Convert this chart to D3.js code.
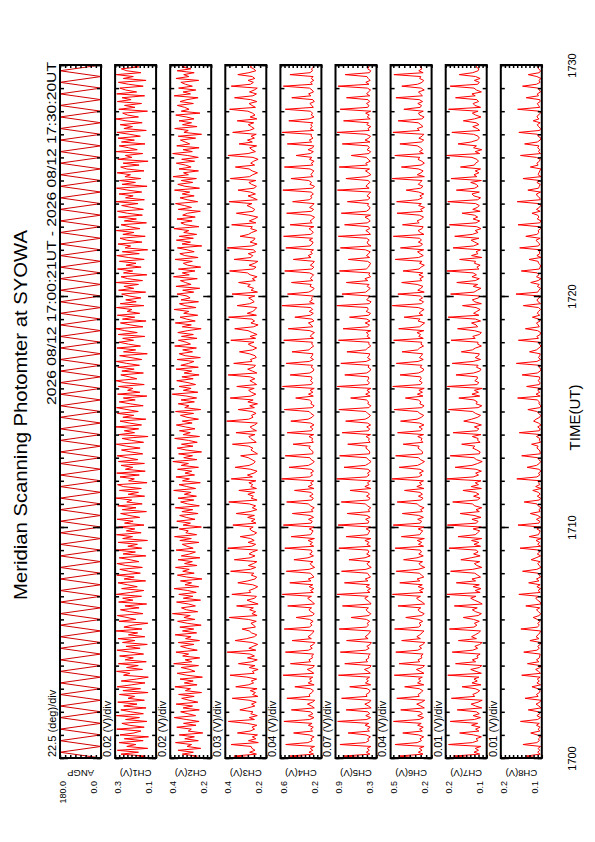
<!DOCTYPE html>
<html>
<head>
<meta charset="utf-8">
<script src="https://cdn.jsdelivr.net/npm/d3@7"></script>
<style>
  body { margin: 0; background: #fff; }
  text { font-family: "Liberation Sans", Arial, Helvetica, sans-serif; fill: #000; }
</style>
</head>
<body>
<svg id="chart" width="595" height="842"></svg>
<script>
// Meridian scanning photometer plot, drawn rotated (time runs bottom -> top)

var titleText = "Meridian Scanning Photomter at SYOWA";
var periodText = "2026 08/12 17:00:21UT - 2026 08/12 17:30:20UT";
var timeAxisTitle = "TIME(UT)";

var panelNames = ["ANGP", "CH1(V)", "CH2(V)", "CH3(V)", "CH4(V)", "CH5(V)", "CH6(V)", "CH7(V)", "CH8(V)"];
var valueMin = [0, 0.1, 0.2, 0.2, 0.2, 0.3, 0.2, 0.1, 0.1];
var valueMax = [180, 0.3, 0.4, 0.4, 0.6, 0.9, 0.5, 0.2, 0.2];
var valueDiv = [22.5, 0.02, 0.02, 0.03, 0.04, 0.07, 0.04, 0.01, 0.01];
var minLabels = ["0.0", "0.1", "0.2", "0.2", "0.2", "0.3", "0.2", "0.1", "0.1"];
var maxLabels = ["180.0", "0.3", "0.4", "0.4", "0.6", "0.9", "0.5", "0.2", "0.2"];
var divLabels = ["22.5 (deg)/div", "0.02 (V)/div", "0.02 (V)/div", "0.03 (V)/div", "0.04 (V)/div",
                 "0.07 (V)/div", "0.04 (V)/div", "0.01 (V)/div", "0.01 (V)/div"];

// time axis (seconds after 17:00)
var timeStart = 0, timeEnd = 1800;
var timeTickSeconds = [0, 600, 1200, 1800];
var timeTickLabels = ["1700", "1710", "1720", "1730"];

// scan angle turning points (deg), one every 15 s
var angp = [
  0,180,0,180,0,180,0,180,0,180,0,180,0,180,0,180,0,180,0,180,
  0,180,0,180,0,180,0,180,0,180,0,180,0,180,0,180,0,180,0,180,
  0,180,0,180,0,180,0,180,0,180,0,180,0,180,0,180,0,180,0,180,
  0,180,0,180,0,180,0,180,0,180,0,180,0,180,0,180,0,180,0,180,
  0,180,0,180,0,180,0,180,0,180,0,180,0,180,0,180,0,180,0,180,
  0,180,0,180,0,180,0,180,0,180,0,180,0,180,0,180,0,180,0,180,
  0
];

// channel samples in mV, one every 5 s
var ch1 = [
  218,152,271,186,289,141,243,199,281,163,255,137,276,208,174,292,158,231,
  267,145,249,181,294,162,224,272,149,258,193,287,157,237,205,279,139,262,
  176,290,221,154,270,196,138,259,228,293,166,244,187,284,148,251,211,278,
  161,226,291,178,247,143,264,203,286,155,235,190,295,169,257,216,140,281,
  199,242,289,164,229,274,183,252,146,283,213,263,171,294,225,160,268,192,
  240,286,151,256,207,292,177,233,277,167,248,291,184,227,280,150,261,201,
  296,170,238,191,285,142,263,215,293,173,245,204,282,159,254,212,290,180,
  232,273,147,265,198,287,168,243,219,295,156,236,186,279,172,260,288,144,
  234,206,276,182,292,153,250,214,271,157,284,189,241,290,165,223,269,178,
  245,294,161,220,266,139,283,205,255,185,297,171,230,276,150,262,209,289,
  187,242,293,163,227,280,202,260,145,288,179,239,213,284,158,253,296,194,
  231,272,162,267,207,287,181,244,294,170,222,278,143,259,200,291,176,235,
  281,210,263,155,285,192,253,297,164,226,274,149,264,204,289,180,241,218,
  293,160,275,197,248,174,232,268,151,283,209,257,186,295,166,238,271,145,
  259,214,288,173,246,198,279,158,236,292,182,265,141,251,224,286,169,243,
  276,153,262,208,294,179,230,271,147,255,196,284,167,240,289,162,219,268,
  188,297,157,249,212,281,170,237,293,144,266,201,278,175,252,225,290,159,
  244,273,183,261,139,287,218,250,165,295,192,234,280,154,269,206,286,177,
  228,291,148,257,215,275,168,247,296,186,239,263,142,282,203,254,171,289,
  222,266,156,292,195,248,277,163,235,284,149,260,211,294,174,243,270,185,
  229
];
var ch2 = [
  305,268,341,287,362,251,318,296,374,263,329,282,356,241,312,297,368,274,
  335,259,322,380,276,314,349,258,337,291,371,265,308,344,283,359,247,326,
  301,377,269,331,288,352,243,319,366,279,304,347,262,383,295,327,256,339,
  310,372,268,316,349,284,361,257,325,298,376,271,340,285,353,249,317,364,
  280,333,302,389,266,321,345,277,310,369,252,336,289,358,273,314,381,261,
  328,296,350,245,319,365,283,339,307,374,269,330,292,362,255,346,305,277,
  371,288,318,341,260,353,297,379,271,324,312,356,248,337,301,368,279,322,
  354,264,343,290,375,258,316,349,285,362,272,331,298,383,276,319,357,253,
  340,306,372,281,328,295,364,262,346,311,387,270,334,291,359,247,323,366,
  289,345,268,311,378,257,337,302,355,279,326,370,293,341,262,318,350,286,
  374,251,329,308,361,282,347,271,319,390,265,336,298,357,276,313,368,288,
  343,259,332,295,371,263,348,310,284,366,253,327,356,291,339,272,378,301,
  322,360,269,345,287,363,315,249,341,297,375,278,320,352,266,334,309,381,
  274,328,355,262,347,303,318,367,285,339,256,372,298,326,350,268,384,307,
  341,279,360,251,315,336,292,376,264,329,353,283,318,365,246,342,301,370,
  287,356,271,334,309,382,260,325,348,293,367,278,339,315,253,361,296,331,
  374,266,318,352,283,341,305,379,257,328,363,290,346,272,386,311,335,262,
  357,298,325,370,281,344,263,316,388,292,337,259,368,305,327,350,276,361,
  247,333,312,378,269,340,296,357,284,321,373,255,346,308,329,365,287,352,
  318,264,381,301,337,275,359,292,326,348,261,372,309,334,283,366,299,343,
  312
];
var ch3 = [
  262,358,248,281,255,270,274,372,239,287,251,268,243,341,279,257,270,246,
  293,385,258,283,244,276,265,329,291,256,272,249,284,366,241,267,253,278,
  245,349,288,262,273,247,296,377,259,268,240,283,255,336,271,244,292,258,
  279,391,251,285,264,242,269,352,297,258,246,272,283,318,253,261,275,249,
  288,381,245,270,252,281,263,345,240,269,294,257,248,368,276,284,259,242,
  266,339,290,255,247,273,261,374,278,252,287,263,246,356,279,255,284,268,
  243,388,271,252,289,259,276,327,262,247,270,281,264,363,250,273,255,291,
  258,347,279,246,268,252,283,383,245,274,263,290,257,334,248,276,266,285,
  251,371,268,292,260,245,277,352,284,262,254,270,288,325,243,259,275,266,
  287,365,249,262,276,285,255,348,248,267,279,257,244,393,286,265,272,250,
  269,337,258,281,243,290,264,376,275,251,273,286,259,344,247,262,280,256,
  278,386,246,268,291,261,253,359,270,277,249,255,283,331,266,247,271,288,
  260,373,252,279,245,268,289,354,262,240,275,257,271,384,248,293,266,254,
  247,342,281,259,270,286,256,367,243,274,262,291,278,335,254,268,245,279,
  292,379,263,250,284,257,241,357,275,266,288,252,263,390,270,245,279,261,
  255,328,287,271,246,276,268,369,251,283,259,242,286,346,264,257,273,294,
  270,382,244,265,289,253,278,338,260,248,272,285,251,375,282,266,243,269,
  284,351,257,276,262,240,265,387,289,253,270,281,247,333,268,292,258,274,
  249,364,283,259,273,288,261,342,246,279,255,267,290,379,253,270,284,246,
  276,355,265,248,282,259,244,371,277,263,289,256,268,339,285,251,262,279,
  263
];
var ch4 = [
  298,512,276,321,284,309,267,548,332,289,303,271,318,471,286,305,279,327,
  291,566,314,272,326,283,308,493,269,297,336,287,265,537,312,319,292,278,
  307,459,271,329,295,316,284,574,274,301,338,283,269,502,306,322,287,294,
  276,551,325,289,311,278,264,486,298,331,303,286,272,563,317,293,308,281,
  315,447,288,270,302,322,296,529,268,285,311,334,297,581,279,306,274,319,
  284,508,301,328,273,289,307,542,320,266,295,309,282,468,331,277,314,290,
  299,557,275,312,287,330,268,495,304,293,281,318,271,571,300,289,326,276,
  311,483,283,297,270,308,325,539,292,279,314,283,301,462,272,330,288,305,
  274,588,317,286,305,276,301,516,327,290,269,299,313,553,285,281,298,322,
  308,476,279,293,286,321,275,534,297,284,310,272,305,498,329,291,274,302,
  320,562,288,271,303,294,317,451,279,326,283,310,270,579,298,285,307,292,
  296,505,313,280,274,299,286,544,318,277,306,290,282,487,321,303,275,294,
  288,568,276,309,295,268,312,523,284,300,327,273,291,459,306,279,318,285,
  303,585,270,316,289,297,278,531,325,286,271,311,299,492,283,307,294,276,
  315,558,292,274,308,283,269,474,301,329,288,305,277,547,312,290,281,318,
  286,569,304,279,296,321,273,505,290,310,284,267,309,539,297,276,315,288,
  272,481,319,293,305,278,300,576,285,268,312,296,324,497,281,303,289,274,
  310,561,283,298,271,316,292,446,307,279,330,285,275,533,294,318,282,301,
  297,583,276,311,289,304,283,518,320,272,298,287,306,552,279,293,313,270,
  284,489,302,325,277,291,316,571,288,306,274,299,281,507,311,287,296,276,
  293
];
var ch5 = [
  421,782,396,448,405,437,382,835,462,411,429,389,452,716,403,433,392,467,
  414,868,441,386,457,399,426,745,378,418,471,402,383,811,439,451,408,393,
  436,692,385,462,419,447,401,857,390,425,476,398,380,764,431,455,411,420,
  391,829,458,407,442,393,375,738,423,466,428,404,386,846,449,417,436,399,
  447,671,410,384,429,452,418,798,380,401,440,472,421,877,395,434,387,453,
  403,769,425,464,388,412,431,812,455,377,419,438,397,703,468,392,444,410,
  426,851,389,441,407,469,381,744,430,415,397,451,386,862,423,412,459,392,
  441,729,400,419,384,433,461,816,416,395,446,403,428,688,383,470,409,432,
  389,883,448,407,432,390,425,776,463,414,379,421,445,839,404,398,420,457,
  437,721,394,415,406,453,387,803,418,401,443,386,431,751,466,412,388,429,
  455,851,411,383,427,416,447,678,393,458,400,440,382,874,424,404,436,415,
  419,764,446,398,385,423,409,822,451,390,433,408,399,733,457,428,384,412,
  410,857,392,436,418,449,383,789,427,402,465,395,440,695,414,388,452,421,
  433,881,405,380,444,417,396,805,459,423,391,437,409,741,428,470,386,413,
  398,843,451,419,403,386,429,712,401,447,414,393,462,828,381,425,438,406,
  444,859,389,413,456,400,418,767,435,392,421,468,387,815,449,407,394,430,
  416,726,427,395,439,412,385,872,408,453,431,397,420,748,442,383,416,461,
  402,846,434,457,390,423,448,669,411,386,439,404,426,801,395,467,413,388,
  451,877,406,425,383,441,417,782,392,436,405,459,384,832,428,410,446,399,
  424,739,398,444,419,387,433,861,410,456,393,421,440,758,403,384,429,412,
  410
];
var ch6 = [
  281,442,263,297,270,289,255,468,306,274,285,258,295,411,268,288,261,302,
  276,479,292,259,301,267,284,426,253,279,309,271,250,455,291,298,277,264,
  290,397,257,303,279,296,268,473,256,283,311,266,252,438,287,299,271,278,
  262,462,301,273,291,264,249,419,282,308,286,270,256,471,296,277,292,265,
  295,389,272,254,285,300,279,446,251,269,293,310,281,486,263,288,258,298,
  268,433,286,306,257,273,290,459,299,250,280,292,266,405,307,261,294,274,
  283,467,259,296,272,305,253,421,287,277,265,298,255,481,283,273,302,260,
  294,414,267,281,255,291,304,452,276,263,296,267,285,398,256,308,272,289,
  259,489,298,270,289,260,285,437,303,274,252,282,295,463,269,265,281,300,
  291,408,264,277,270,301,259,449,281,268,292,256,288,427,306,275,258,286,
  302,475,272,255,286,278,297,392,263,304,267,293,254,484,282,269,290,276,
  280,431,297,264,258,283,271,458,299,261,289,274,266,416,303,287,259,278,
  272,478,261,294,280,307,257,441,288,270,251,299,284,401,265,292,276,255,
  298,487,273,259,290,266,283,447,254,301,279,263,306,419,271,286,260,293,
  264,409,292,277,253,288,270,466,295,261,284,303,258,428,280,267,297,274,
  287,480,256,283,299,270,262,413,291,306,275,259,290,453,266,281,252,295,
  275,456,301,268,286,257,294,386,279,263,297,284,269,488,253,305,278,262,
  296,421,277,253,271,300,285,469,260,289,266,281,304,432,275,258,293,270,
  257,483,289,305,263,279,298,445,272,255,287,296,261,403,283,274,301,266,
  290,461,267,282,296,254,276,418,303,269,258,287,279,476,262,294,271,285,
  272
];
var ch7 = [
  124,181,117,131,120,128,114,193,135,121,126,113,132,166,119,127,116,137,
  122,189,130,115,133,118,125,172,112,127,138,121,111,186,129,134,123,117,
  128,160,114,136,123,131,119,195,113,126,139,118,112,176,127,135,121,124,
  116,184,134,122,129,117,111,169,125,137,128,120,115,191,131,124,130,118,
  132,157,121,113,127,135,123,179,111,119,130,139,126,197,116,128,114,133,
  118,174,127,136,115,122,129,188,134,112,124,130,117,163,138,116,132,121,
  125,192,115,131,119,137,112,170,128,122,117,133,113,196,125,121,136,114,
  131,165,118,126,112,129,135,183,123,116,132,119,127,158,113,138,120,128,
  114,198,133,120,127,113,126,177,136,122,111,125,131,189,118,116,124,134,
  129,161,116,122,121,135,114,182,124,119,130,113,128,156,137,122,115,127,
  134,193,121,112,126,123,131,168,117,136,120,130,111,196,124,119,129,123,
  123,175,132,117,114,125,121,184,133,115,128,120,118,162,135,127,113,122,
  121,187,128,134,118,113,130,171,122,126,137,115,127,194,119,132,124,116,
  126,159,113,129,135,120,117,188,131,123,114,133,122,173,128,118,136,125,
  133,197,119,124,116,130,127,166,112,137,121,126,115,182,132,120,129,138,
  119,178,135,121,128,114,124,191,126,117,133,122,130,160,116,134,123,118,
  127,195,122,115,131,136,118,174,129,121,125,139,113,187,124,131,119,128,
  115,164,130,127,120,124,136,198,117,128,112,132,125,170,138,123,118,121,
  132,185,117,123,134,119,126,157,130,114,127,135,121,193,115,129,133,120,
  124,176,128,136,113,125,131,189,122,118,130,116,127,167,134,121,119,126,
  121
];
var ch8 = [
  107,138,104,110,105,109,103,146,112,106,108,103,111,127,105,109,104,113,
  106,152,110,103,112,105,108,133,102,107,114,105,102,141,109,113,106,104,
  109,124,103,112,106,111,104,149,103,108,115,104,102,135,107,113,106,105,
  104,144,112,106,110,104,102,129,107,114,109,105,103,151,111,106,110,104,
  111,121,106,103,108,113,105,139,102,104,110,115,107,156,104,109,103,112,
  104,132,107,113,103,106,109,147,112,102,106,110,104,126,114,103,111,105,
  106,153,103,110,105,114,102,131,108,106,104,112,103,158,107,105,113,103,
  110,128,104,107,102,109,112,143,106,103,111,104,108,122,102,115,105,108,
  103,161,112,105,108,102,107,136,113,106,103,107,110,149,104,104,106,112,
  109,125,103,106,105,113,102,155,106,104,110,102,108,120,114,105,103,107,
  112,134,105,102,107,106,111,159,104,114,105,110,102,137,106,104,109,105,
  106,148,111,104,102,107,105,162,112,103,108,105,104,130,113,107,102,106,
  105,157,108,112,104,103,110,140,106,109,113,104,107,123,105,111,108,103,
  108,145,103,109,112,106,104,163,110,107,103,111,106,127,109,102,113,107,
  111,150,106,104,103,108,109,131,102,112,105,106,103,154,108,105,110,114,
  104,139,112,107,109,103,106,158,105,102,111,107,110,124,104,113,106,103,
  107,160,104,105,111,113,103,134,108,106,104,112,105,146,102,109,107,105,
  102,128,109,112,106,104,113,152,103,108,105,110,107,142,111,104,102,109,
  110,156,105,103,108,111,104,121,107,112,109,103,106,159,105,108,111,104,
  105,138,108,111,103,106,109,147,113,104,107,102,112,133,106,103,108,110,
  106
];

var traces = [angp, ch1, ch2, ch3, ch4, ch5, ch6, ch7, ch8];
var traceUnit = [1, 0.001, 0.001, 0.001, 0.001, 0.001, 0.001, 0.001, 0.001];

var plotTop = 65, plotBottom = 758;
var svg = d3.select("#chart");

// time scale runs upward on the page
var timeScale = d3.scaleLinear().domain([timeStart, timeEnd]).range([plotBottom, plotTop]);

// one band per panel across the page
var panelScale = d3.scaleBand().domain(panelNames).range([60, 541.8]).paddingInner(0.256).paddingOuter(0);
var panelWidth = panelScale.bandwidth();

var minuteTicks = d3.range(timeStart, timeEnd + 1, 60);

var line = d3.line().x(function(d) { return d.x; }).y(function(d) { return d.y; });

panelNames.forEach(function(name, i) {
  var left = panelScale(name);
  var g = svg.append("g").attr("transform", "translate(" + left + ",0)");

  // larger values to the left
  var valueScale = d3.scaleLinear().domain([valueMin[i], valueMax[i]]).range([panelWidth, 0]);

  g.append("clipPath").attr("id", "clip" + i)
    .append("rect").attr("x", 0).attr("y", plotTop).attr("width", panelWidth).attr("height", plotBottom - plotTop);

  var vals = traces[i];
  var step = (timeEnd - timeStart) / (vals.length - 1);
  var pts = vals.map(function(v, k) {
    return { x: valueScale(v * traceUnit[i]), y: timeScale(timeStart + k * step) };
  });

  g.append("path")
    .attr("clip-path", "url(#clip" + i + ")")
    .attr("d", line(pts))
    .attr("fill", "none")
    .attr("stroke", i === 0 ? "#d40000" : "#ff0000")
    .attr("stroke-width", 1);

  // minute ticks on both long edges, pointing inward
  var tickGroups = [
    g.append("g").call(d3.axisLeft(timeScale).tickValues(minuteTicks).tickSize(-4).tickFormat("")),
    g.append("g").call(d3.axisLeft(timeScale).tickValues(timeTickSeconds).tickSize(-8).tickFormat("")),
    g.append("g").attr("transform", "translate(" + panelWidth + ",0)")
      .call(d3.axisRight(timeScale).tickValues(minuteTicks).tickSize(-4).tickFormat("")),
    g.append("g").attr("transform", "translate(" + panelWidth + ",0)")
      .call(d3.axisRight(timeScale).tickValues(timeTickSeconds).tickSize(-8).tickFormat(""))
  ];

  // value division ticks on the short edges
  var divTicks = d3.range(valueMin[i], valueMax[i] + valueDiv[i] * 0.01, valueDiv[i]);
  tickGroups.push(g.append("g").attr("transform", "translate(0," + plotTop + ")")
    .call(d3.axisTop(valueScale).tickValues(divTicks).tickSize(-3).tickFormat("")));
  tickGroups.push(g.append("g").attr("transform", "translate(0," + plotBottom + ")")
    .call(d3.axisBottom(valueScale).tickValues(divTicks).tickSize(-3).tickFormat("")));

  tickGroups.forEach(function(tg) {
    tg.select(".domain").remove();
    tg.selectAll("line").attr("stroke-width", 1.5);
  });

  g.append("rect")
    .attr("x", 0).attr("y", plotTop)
    .attr("width", panelWidth).attr("height", plotBottom - plotTop)
    .attr("fill", "none").attr("stroke", "#000").attr("stroke-width", 2);

  // channel name (upside down under the panel)
  g.append("text")
    .attr("transform", "translate(" + (panelWidth / 2) + ",773) rotate(180)")
    .attr("text-anchor", "middle").attr("dy", "0.35em")
    .style("font-size", "9.5px")
    .text(name);

  g.append("text")
    .attr("transform", "translate(3,781) rotate(-90)")
    .attr("text-anchor", "end").attr("dy", "0.35em")
    .style("font-size", "9px")
    .text(maxLabels[i]);

  g.append("text")
    .attr("transform", "translate(" + (panelWidth - 7) + ",781) rotate(-90)")
    .attr("text-anchor", "end").attr("dy", "0.35em")
    .style("font-size", "9px")
    .text(minLabels[i]);

  g.append("text")
    .attr("transform", "translate(-8," + (plotBottom - 1) + ") rotate(-90)")
    .attr("text-anchor", "start").attr("dy", "0.35em")
    .style("font-size", "11px")
    .text(divLabels[i]);
});

// time labels on the right
var timeAxis = svg.append("g")
  .attr("transform", "translate(566,0)")
  .call(d3.axisRight(timeScale).tickValues(timeTickSeconds).tickSize(0)
    .tickFormat(function(d, k) { return timeTickLabels[k]; }));
timeAxis.select(".domain").remove();
timeAxis.selectAll("text")
  .attr("x", null).attr("dy", "0.35em")
  .attr("transform", "translate(6,0) rotate(-90)")
  .attr("text-anchor", "middle")
  .style("font-size", "11px")
  .style("font-family", "'Liberation Sans', Arial, Helvetica, sans-serif");

svg.append("text")
  .attr("transform", "translate(575," + ((plotTop + plotBottom) / 2 + 6) + ") rotate(-90)")
  .attr("text-anchor", "middle").attr("dy", "0.35em")
  .style("font-size", "15px")
  .text(timeAxisTitle);

svg.append("text")
  .attr("transform", "translate(20,415) rotate(-90)")
  .attr("text-anchor", "middle").attr("dy", "0.35em")
  .attr("textLength", 370).attr("lengthAdjust", "spacingAndGlyphs")
  .style("font-size", "19px")
  .text(titleText);

svg.append("text")
  .attr("transform", "translate(52,62) rotate(-90)")
  .attr("text-anchor", "end").attr("dy", "0.35em")
  .attr("textLength", 343).attr("lengthAdjust", "spacingAndGlyphs")
  .style("font-size", "12.5px")
  .text(periodText);
</script>
</body>
</html>
